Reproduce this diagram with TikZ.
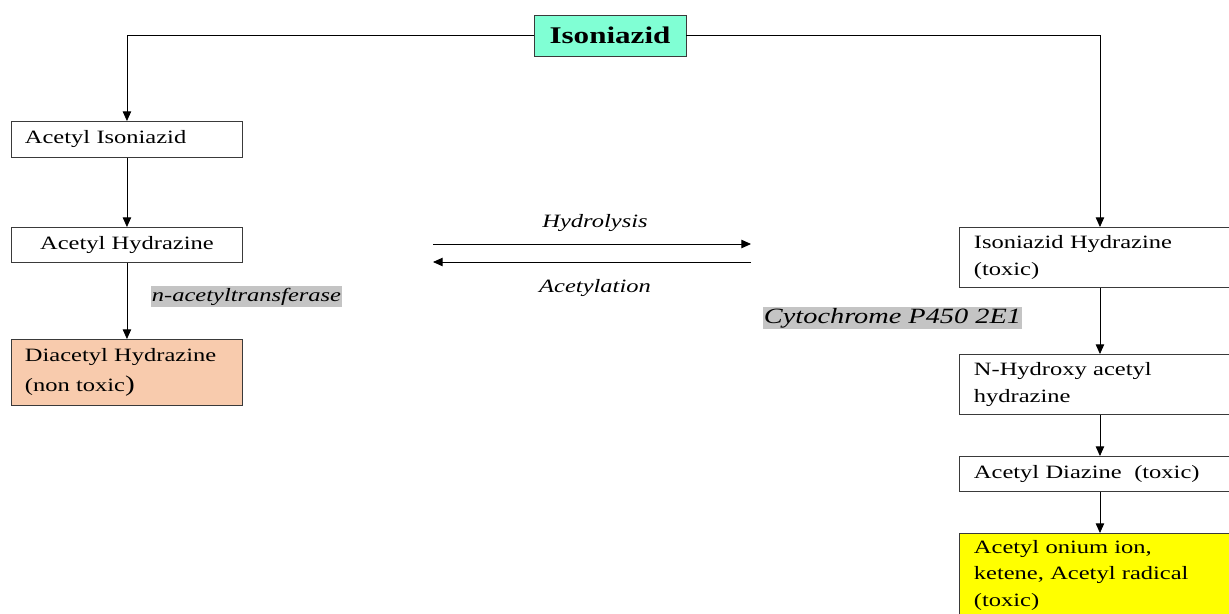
\documentclass[tikz,border=0pt]{standalone}
\usepackage{fontspec}
\setmainfont{Liberation Serif}[FakeStretch=1.3]
\usepackage{xcolor}
\definecolor{aqua}{HTML}{80FFD4}
\definecolor{peach}{HTML}{F8CBAD}
\definecolor{lemon}{HTML}{FFFF00}
\definecolor{hilite}{HTML}{C4C4C4}
\definecolor{edge}{HTML}{3A3A3A}
\usepackage{tikz}
\usetikzlibrary{arrows.meta,positioning}

\begin{document}
\begin{tikzpicture}[x=0.025cm,y=-0.025cm,
  box/.style={draw=edge,line width=0.6pt,anchor=north west,inner xsep=0.33cm,inner ysep=0pt,
    font=\fontsize{13.4}{19}\selectfont,align=left},
  lbox/.style={box,minimum width=5.775cm,text width=5.1cm},
  rbox/.style={box,minimum width=7.025cm,text width=6.3cm},
  enzyme/.style={fill=hilite,inner sep=1pt,font=\itshape\fontsize{13.4}{16}\selectfont},
  step label/.style={font=\itshape\fontsize{13.4}{16}\selectfont},
  arr/.style={line width=0.6pt,-{Triangle[length=0.24cm,width=0.21cm]}}]
  \useasboundingbox (0,0) rectangle (1229,613);
  \clip (0,0) rectangle (1229,613);

  % --- Parent drug ---
  \node[box,anchor=center,fill=aqua,minimum width=3.8cm,minimum height=1.025cm,
        font=\bfseries\fontsize{17}{20}\selectfont] (iso) at (610,35.5) {Isoniazid};

  % --- Acetylation branch (left) ---
  \node[lbox,minimum height=0.9cm] (acIso) at (11,121) {Acetyl Isoniazid};
  \node[lbox,minimum height=0.875cm,align=center] (acHyd) at (11,227) {Acetyl Hydrazine};
  \node[lbox,fill=peach,minimum height=1.65cm,font=\fontsize{13.4}{21}\selectfont]
        (diAc) at (11,339) {Diacetyl Hydrazine\\(non toxic{\fontsize{16}{16}\selectfont)}};
  \node[enzyme] (nat) at (246.5,296.5) {n-acetyltransferase};

  % --- Hydrolysis / acetylation (middle) ---
  \node[step label] (hydro) at (595,223) {Hydrolysis};
  \node[step label] (acet) at (595,288) {Acetylation};
  \coordinate (hydL) at (433,244);
  \coordinate (hydR) at (751,244);
  \coordinate (acR) at (751,262);
  \coordinate (acL) at (433,262);

  % --- Oxidation branch (right) ---
  \node[rbox,minimum height=1.5cm] (isoHyd) at (959,227) {Isoniazid Hydrazine\\(toxic)};
  \node[rbox,minimum height=1.5cm] (nHyd) at (959,354) {N-Hydroxy acetyl\\hydrazine};
  \node[rbox,minimum height=0.875cm] (diaz) at (959,456) {Acetyl Diazine\ \ (toxic)};
  \node[rbox,fill=lemon,minimum height=2.1cm] (onium) at (959,533)
        {Acetyl onium ion,\\ketene, Acetyl radical\\(toxic)};
  \node[enzyme,font=\itshape\fontsize{15.5}{18}\selectfont] (cyp) at (892.5,318) {Cytochrome P450 2E1};

  % --- Connectors ---
  \draw[arr] (iso.west) -| (acIso.north);
  \draw[arr] (iso.east) -| (isoHyd.north);
  \draw[arr] (acIso) -- (acHyd);
  \draw[arr] (acHyd) -- (diAc);
  \draw[arr] (hydL) -- (hydR);
  \draw[arr] (acR) -- (acL);
  \draw[arr] (isoHyd) -- (nHyd);
  \draw[arr] (nHyd) -- (diaz);
  \draw[arr] (diaz) -- (onium);
\end{tikzpicture}
\end{document}
